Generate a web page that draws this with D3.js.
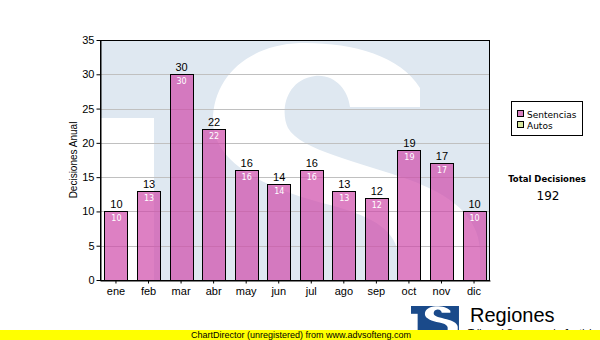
<!DOCTYPE html>
<html>
<head>
<meta charset="utf-8">
<script src="https://cdn.jsdelivr.net/npm/d3@7"></script>
<style>
  body { margin: 0; background: #fff; }
  svg { display: block; }
  text { font-family: "Liberation Sans", Arial, sans-serif; }
</style>
</head>
<body>
<svg id="mainsvg" width="600" height="340"></svg>
<script>
// data
const months = ['ene', 'feb', 'mar', 'abr', 'may', 'jun', 'jul', 'ago', 'sep', 'oct', 'nov', 'dic'];
const sentencias = [10, 13, 30, 22, 16, 14, 16, 13, 12, 19, 17, 10];
const yTicks = [0, 5, 10, 15, 20, 25, 30, 35];
const legendNames = ['Sentencias', 'Autos'];
const legendColors = ['#d77fc0', '#d8e8a0'];
const totalLabel = 'Total Decisiones';
const totalValue = d3.sum(sentencias);

const sans = '"Liberation Sans", Arial, sans-serif';
const dejavu = '"DejaVu Sans", sans-serif';

const svg = d3.select('#mainsvg');
const width = +svg.attr('width');
const height = +svg.attr('height');
const margin = { top: 40, right: 110, bottom: 60, left: 100 };
const innerWidth = width - margin.left - margin.right;   // 390
const innerHeight = height - margin.top - margin.bottom; // 240

svg.append('rect').attr('width', width).attr('height', height).attr('fill', '#fff');

const x = d3.scaleBand().domain(months).range([0, innerWidth])
  .paddingInner(0.293).paddingOuter(0.137);
const y = d3.scaleLinear().domain([0, 35]).range([innerHeight, 0]);

const g = svg.append('g').attr('transform', `translate(${margin.left}, ${margin.top})`);

// logo shape in a 390x240 box (used for the watermark and the corner logo)
const sPath = 'M320,48 C300,15 250,2 200,3 C145,5 112,40 113,82 C114,125 170,150 230,165 ' +
  'C280,178 300,195 298,222 L298,260 L380,260 L380,210 C378,175 350,155 310,140 ' +
  'C260,122 200,110 188,88 C180,72 185,40 215,36 C235,34 248,50 250,67 L320,67 Z';
svg.append('clipPath').attr('id', 'logoclip')
  .append('rect').attr('width', 390).attr('height', 240);
function drawLogo(sel, blue) {
  const c = sel.append('g').attr('clip-path', 'url(#logoclip)');
  c.append('rect').attr('x', 0).attr('y', 0).attr('width', 390).attr('height', 240).attr('fill', blue);
  c.append('rect').attr('x', 0).attr('y', 78).attr('width', 54).attr('height', 170).attr('fill', '#fff');
  c.append('path').attr('d', sPath).attr('fill', '#fff');
}

const wm = g.append('g');
drawLogo(wm, '#dfe8f1');

// grid
g.append('g').selectAll('line').data(yTicks.filter(d => d > 0 && d < 35)).join('line')
  .attr('x1', 0).attr('x2', innerWidth)
  .attr('y1', d => Math.round(y(d)) + 0.5).attr('y2', d => Math.round(y(d)) + 0.5)
  .attr('stroke', '#c0c0c0').attr('stroke-width', 1);

// bars
g.append('g').selectAll('rect').data(sentencias).join('rect')
  .attr('x', (d, i) => Math.round(x(months[i])) + 0.5)
  .attr('y', d => Math.round(y(d)) + 0.5)
  .attr('width', Math.round(x.bandwidth()))
  .attr('height', d => Math.round(y(0)) - Math.round(y(d)))
  .attr('fill', '#cf4aa9').attr('fill-opacity', 0.7)
  .attr('stroke', '#000').attr('stroke-width', 1);

// frame
g.append('rect').attr('x', 0.5).attr('y', 0.5).attr('width', innerWidth - 1).attr('height', innerHeight)
  .attr('fill', 'none').attr('stroke', '#000').attr('stroke-width', 1);

// axes
const yAxis = d3.axisLeft(y).tickValues(yTicks).tickSize(4).tickSizeOuter(0).tickPadding(2);
const yg = g.append('g').attr('transform', 'translate(0.5,0)').call(yAxis);
yg.selectAll('text').attr('font-size', 11).attr('fill', '#000').style('font-family', sans);
yg.selectAll('line').attr('stroke', '#000');
yg.select('.domain').attr('stroke', '#000');

const xAxis = d3.axisBottom(x).tickSize(3).tickSizeOuter(0).tickPadding(4);
const xg = g.append('g').attr('transform', `translate(0,${innerHeight + 0.5})`).call(xAxis);
xg.selectAll('text').attr('font-size', 11).attr('fill', '#000').style('font-family', sans);
xg.selectAll('line').attr('stroke', '#000');
xg.select('.domain').attr('stroke', '#000');

// labels above bars
g.append('g').selectAll('text').data(sentencias).join('text')
  .attr('x', (d, i) => x(months[i]) + x.bandwidth() / 2 + 0.5)
  .attr('y', d => y(d) - 3)
  .attr('text-anchor', 'middle').attr('font-size', 11).attr('fill', '#000')
  .style('font-family', sans)
  .text(d => d);

// labels inside bars
g.append('g').selectAll('text').data(sentencias).join('text')
  .attr('x', (d, i) => x(months[i]) + x.bandwidth() / 2 + 0.5)
  .attr('y', d => y(d) + 10)
  .attr('text-anchor', 'middle').attr('font-size', 8).attr('fill', '#fff')
  .style('font-family', dejavu)
  .text(d => d);

// y title
svg.append('text')
  .attr('transform', `translate(76.5, ${margin.top + innerHeight / 2}) rotate(-90)`)
  .attr('text-anchor', 'middle').attr('font-size', 10).attr('fill', '#000')
  .style('font-family', sans)
  .text('Decisiones Anual');

// legend
const lg = svg.append('g').attr('transform', 'translate(511,101)');
lg.append('rect').attr('x', 0.5).attr('y', 0.5).attr('width', 71).attr('height', 34)
  .attr('fill', '#fff').attr('stroke', '#000');
legendNames.forEach((name, i) => {
  lg.append('rect').attr('x', 6.5).attr('y', 9.5 + i * 11).attr('width', 6).attr('height', 6)
    .attr('fill', legendColors[i]).attr('stroke', '#000');
  lg.append('text').attr('x', 16).attr('y', 16.5 + i * 11)
    .attr('font-size', 9).attr('fill', '#000')
    .style('font-family', dejavu)
    .text(name);
});

// total
svg.append('text').attr('x', 547).attr('y', 182).attr('text-anchor', 'middle')
  .attr('font-size', 8.5).attr('font-weight', 'bold').attr('fill', '#000')
  .style('font-family', dejavu)
  .text(totalLabel);
svg.append('text').attr('x', 548).attr('y', 200).attr('text-anchor', 'middle')
  .attr('font-size', 12).attr('fill', '#000')
  .style('font-family', dejavu)
  .text(totalValue);

// footer: logo + caption
svg.append('text').attr('x', 470).attr('y', 322).attr('font-size', 20).attr('fill', '#000')
  .style('font-family', sans).text('Regiones');
svg.append('text').attr('x', 468).attr('y', 337).attr('font-size', 10).attr('fill', '#000')
  .style('font-family', sans).text('Tribunal Supremo de Justicia');

svg.append('rect').attr('x', 0).attr('y', 330).attr('width', width).attr('height', 10).attr('fill', '#ffff00');
svg.append('text').attr('x', 191).attr('y', 337.5).attr('font-size', 9).attr('fill', '#000')
  .style('font-family', sans)
  .text('ChartDirector (unregistered) from www.advsofteng.com');

const logo = svg.append('g').attr('transform', 'translate(411,306) scale(0.123,0.1)');
drawLogo(logo, '#1a4a8a');
</script>
</body>
</html>
